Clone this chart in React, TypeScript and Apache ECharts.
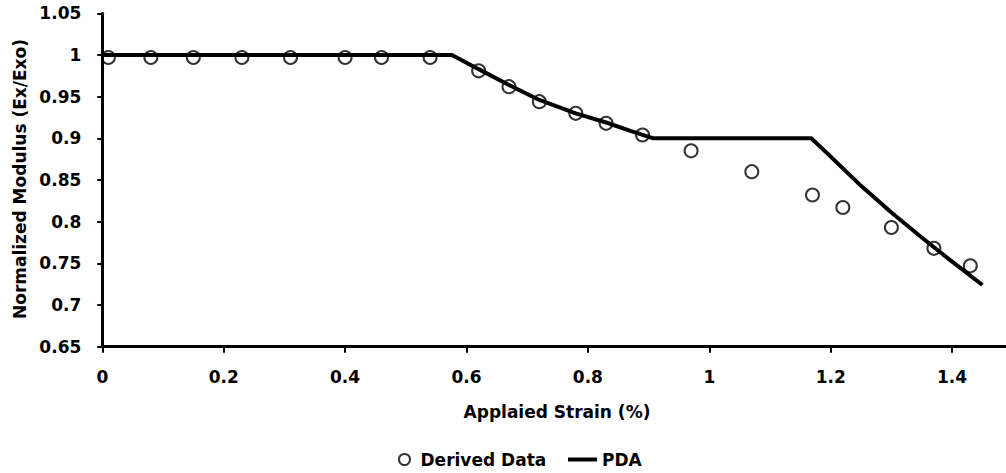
import React, { useEffect, useRef } from "react";
import * as echarts from "echarts";

const derivedStrain = [0.01, 0.08, 0.15, 0.23, 0.31, 0.40, 0.46, 0.54, 0.62, 0.67, 0.72, 0.78, 0.83, 0.89, 0.97, 1.07, 1.17, 1.22, 1.30, 1.37, 1.43];
const derivedModulus = [0.997, 0.997, 0.997, 0.997, 0.997, 0.997, 0.997, 0.997, 0.981, 0.962, 0.944, 0.930, 0.918, 0.904, 0.885, 0.860, 0.832, 0.817, 0.793, 0.768, 0.747];

const pdaStrain = [0, 0.576, 0.62, 0.67, 0.72, 0.78, 0.83, 0.87, 0.908, 1.168, 1.2, 1.25, 1.3, 1.35, 1.4, 1.45];
const pdaModulus = [1.0, 1.0, 0.983, 0.964, 0.946, 0.93, 0.919, 0.909, 0.9, 0.9, 0.878, 0.843, 0.811, 0.781, 0.752, 0.724];

const xTitle = "Applaied Strain (%)";
const yTitle = "Normalized Modulus (Ex/Exo)";
const seriesNames = ["Derived Data", "PDA"];

const FONT = "DejaVu Sans";

export default function App() {
  const ref = useRef<HTMLDivElement>(null);
  useEffect(() => {
    if (!ref.current) return;
    const chart = echarts.init(ref.current, null, { renderer: "svg" });
    const scatterData = derivedStrain.map((x, i) => [x, derivedModulus[i]]);
    const lineData = pdaStrain.map((x, i) => [x, pdaModulus[i]]);
    const labelStyle = { fontFamily: FONT, fontWeight: "bold" as const, fontSize: 17, color: "#000" };
    chart.setOption({
      animation: false,
      backgroundColor: "#fff",
      grid: { left: 102.3, top: 13.3, width: 971.2, height: 333.4 },
      xAxis: {
        type: "value",
        min: 0,
        max: 1.6,
        interval: 0.2,
        axisLine: { show: true, onZero: false, lineStyle: { color: "#000", width: 3 } },
        axisTick: { show: true, length: 6, lineStyle: { color: "#000", width: 2 } },
        splitLine: { show: false },
        axisLabel: {
          ...labelStyle,
          margin: 22,
          showMaxLabel: false,
          formatter: (v: number) => (v > 1.5 ? "" : String(+v.toFixed(2))),
        },
      },
      yAxis: {
        type: "value",
        min: 0.65,
        max: 1.05,
        interval: 0.05,
        axisLine: { show: true, lineStyle: { color: "#000", width: 3 } },
        axisTick: { show: true, length: 5, lineStyle: { color: "#000", width: 2 } },
        splitLine: { show: false },
        axisLabel: { ...labelStyle, margin: 21, formatter: (v: number) => String(+v.toFixed(2)) },
      },
      legend: [
        {
          data: [{ name: seriesNames[0], icon: "circle" }],
          left: 393,
          top: 446,
          itemWidth: 22,
          itemHeight: 11,
          textStyle: { ...labelStyle },
        },
        {
          data: [{ name: seriesNames[1], icon: "rect", itemStyle: { color: "#000" } }],
          left: 563,
          top: 446,
          itemWidth: 29,
          itemHeight: 4,
          textStyle: { ...labelStyle },
        },
      ],
      series: [
        {
          name: seriesNames[0],
          type: "scatter",
          data: scatterData,
          symbol: "circle",
          symbolSize: 13,
          itemStyle: { color: "rgba(0,0,0,0)", borderColor: "#000", borderWidth: 2 },
          z: 2,
        },
        {
          name: seriesNames[1],
          type: "line",
          data: lineData,
          showSymbol: false,
          symbol: "none",
          smooth: false,
          lineStyle: { color: "#000", width: 4 },
          itemStyle: { color: "#000" },
          z: 3,
        },
      ],
      graphic: [
        {
          type: "text",
          x: 557,
          y: 412,
          style: { text: xTitle, fontFamily: FONT, fontWeight: "bold", fontSize: 17, fill: "#000", align: "center", verticalAlign: "middle" },
        },
        {
          type: "text",
          x: 20,
          y: 179,
          rotation: Math.PI / 2,
          style: { text: yTitle, fontFamily: FONT, fontWeight: "bold", fontSize: 17, fill: "#000", align: "center", verticalAlign: "middle" },
        },
      ],
    });
    return () => chart.dispose();
  }, []);
  return (
    <div style={{ position: "fixed", left: 0, top: 0, width: 1006, height: 473, overflow: "hidden", background: "#fff" }}>
      <div ref={ref} style={{ width: 1100, height: 473 }} />
    </div>
  );
}
